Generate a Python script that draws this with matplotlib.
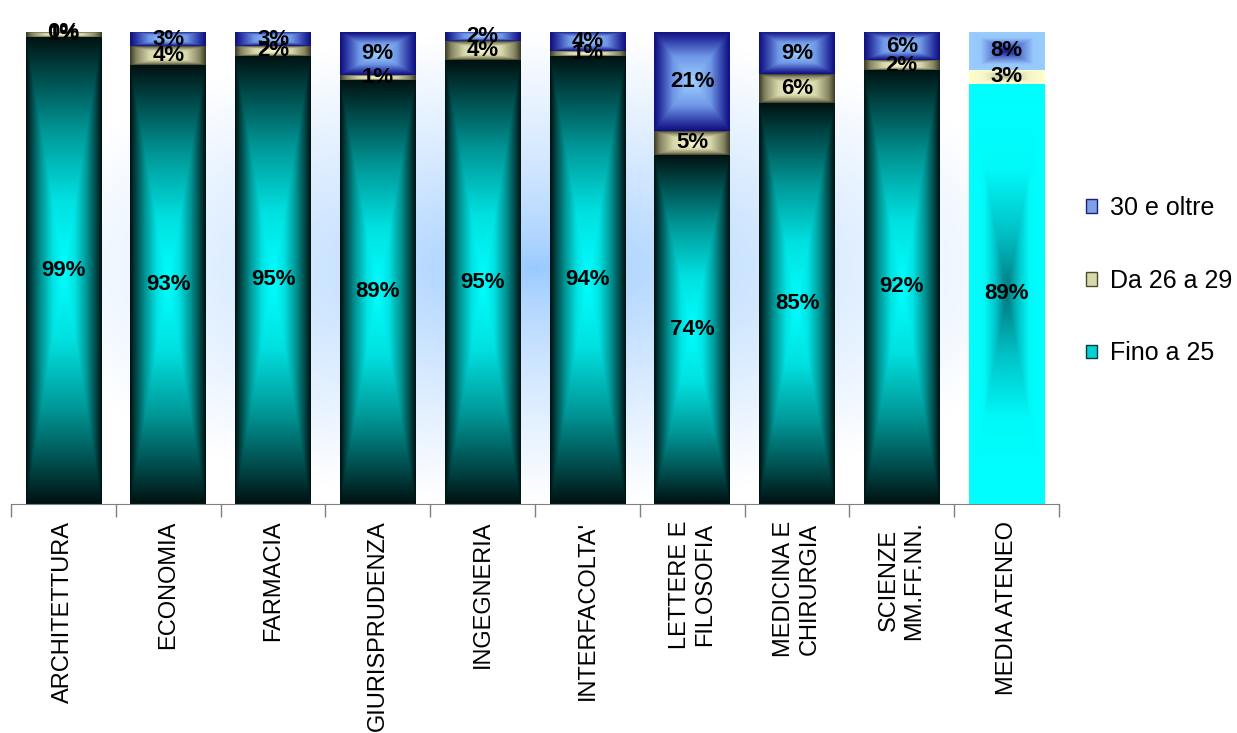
import numpy as np
import matplotlib.pyplot as plt
from matplotlib.patches import Patch

plt.rcParams['font.family'] = ['Liberation Sans', 'DejaVu Sans']

categories = ['ARCHITETTURA', 'ECONOMIA', 'FARMACIA', 'GIURISPRUDENZA', 'INGEGNERIA',
              "INTERFACOLTA'", 'LETTERE E\nFILOSOFIA', 'MEDICINA E\nCHIRURGIA',
              'SCIENZE\nMM.FF.NN.', 'MEDIA ATENEO']
fino_25 = [99, 93, 95, 89, 95, 94, 74, 85, 92, 89]
da_26_29 = [1, 4, 2, 1, 4, 1, 5, 6, 2, 3]
oltre_30 = [0, 3, 3, 9, 2, 4, 21, 9, 6, 8]
series_names = ['Fino a 25', 'Da 26 a 29', '30 e oltre']


def rect_gradient(stops, n=160):
    # gradiente "dal centro" rettangolare, come in Excel
    yy, xx = np.mgrid[-1:1:n * 1j, -1:1:n * 1j]
    t = np.maximum(np.abs(xx), np.abs(yy))
    pos = [s[0] for s in stops]
    img = np.zeros((n, n, 3))
    for c in range(3):
        img[..., c] = np.interp(t, pos, [s[1][c] for s in stops]) / 255
    return img


# stop colori per le facolta (centro chiaro, bordi scuri)
normal_stops = [
    [(0, (0, 255, 255)), (0.3, (0, 225, 225)), (0.6, (0, 150, 150)), (0.85, (0, 70, 70)), (1, (0, 18, 18))],
    [(0, (252, 252, 210)), (0.5, (215, 215, 170)), (0.85, (130, 130, 95)), (1, (60, 60, 40))],
    [(0, (160, 210, 255)), (0.5, (110, 150, 230)), (0.85, (40, 50, 160)), (1, (15, 15, 125))],
]
# media ateneo: gradiente invertito
media_stops = [
    [(0, (0, 120, 125)), (0.3, (0, 195, 200)), (0.6, (0, 250, 250)), (1, (0, 255, 255))],
    [(0, (190, 190, 150)), (0.6, (245, 245, 200)), (1, (255, 255, 205))],
    [(0, (20, 20, 140)), (0.35, (90, 120, 210)), (0.7, (150, 200, 250)), (1, (153, 204, 255))],
]

fig = plt.figure(figsize=(12.37, 7.33), dpi=100)
ax = fig.add_axes([11 / 1237, 229 / 733, 1048 / 1237, 472 / 733])

# sfondo radiale azzurro
yy, xx = np.mgrid[-1:1:300j, -1:1:300j]
r = np.clip(np.sqrt(xx ** 2 + yy ** 2), 0, 1) ** 0.7
center = np.array([150, 200, 255]) / 255
bg = center + (1 - center) * r[..., None]
ax.imshow(bg, extent=(-0.5, 9.5, 0, 100), aspect='auto', zorder=0, interpolation='bilinear')

data = np.array([fino_25, da_26_29, oltre_30], dtype=float)
totals = data.sum(axis=0)
heights = data / totals * 100
x = np.arange(len(categories))
bottom = np.zeros(len(categories))

for s in range(3):
    bars = ax.bar(x, heights[s], bottom=bottom, width=0.72, color='none', edgecolor='none', zorder=2)
    for i, rect in enumerate(bars):
        x0, y0 = rect.get_x(), rect.get_y()
        w, h = rect.get_width(), rect.get_height()
        if h > 0:
            stops = media_stops[s] if i == len(categories) - 1 else normal_stops[s]
            ax.imshow(rect_gradient(stops), extent=(x0, x0 + w, y0, y0 + h),
                      aspect='auto', zorder=2, interpolation='bilinear')
        ax.text(x0 + w / 2, y0 + h / 2, f'{int(data[s, i])}%', ha='center', va='center',
                fontsize=16, fontweight='bold', color='black', zorder=5, clip_on=False)
    bottom += heights[s]

ax.set_xlim(-0.5, 9.5)
ax.set_ylim(0, 100)
ax.set_aspect('auto')

for sp in ['left', 'top', 'right']:
    ax.spines[sp].set_visible(False)
ax.spines['bottom'].set_color('#808080')
ax.set_yticks([])

ax.set_xticks(np.arange(-0.5, 10, 1))
ax.set_xticklabels([])
ax.tick_params(axis='x', which='major', length=9, color='#808080', width=1)
ax.set_xticks(x, minor=True)
ax.set_xticklabels(categories, minor=True, rotation=90, fontsize=17, va='top', ha='center',
                   multialignment='center')
ax.tick_params(axis='x', which='minor', length=0, pad=12)

handles = [
    Patch(facecolor='#7f9fe6', edgecolor='#1a1f80', label=series_names[2]),
    Patch(facecolor='#d8d8aa', edgecolor='#4a4a30', label=series_names[1]),
    Patch(facecolor='#00d2d2', edgecolor='#003c3c', label=series_names[0]),
]
fig.legend(handles=handles, loc='center left', bbox_to_anchor=(1086 / 1237, 0.617),
           frameon=False, fontsize=18, handlelength=0.45, handleheight=0.45,
           handletextpad=0.5, labelspacing=1.95, borderpad=0, borderaxespad=0)

fig.savefig('out.png', dpi=100)
